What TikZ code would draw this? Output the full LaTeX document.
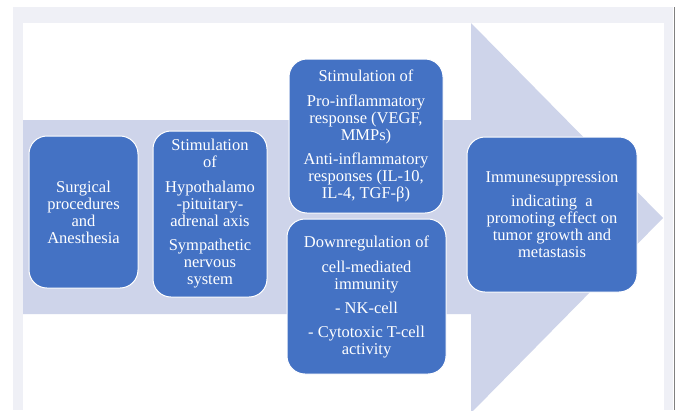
\documentclass[tikz,border=0pt]{standalone}
\usepackage{fontspec}
\setmainfont{Liberation Serif}
\definecolor{framegray}{HTML}{EFF0F6}
\definecolor{arrowfill}{HTML}{CED4EA}
\definecolor{boxblue}{HTML}{4472C4}
\begin{document}
\begin{tikzpicture}[x=1pt,y=-1pt,
  stagebox/.style={draw=white,line width=1pt,fill=boxblue,rounded corners=18pt,
    text=white,align=center,inner sep=0pt,font=\fontsize{16.5}{17}\selectfont}]
\useasboundingbox (0,0) rectangle (680,410);
% frame and big arrow
\fill[framegray] (12.5,7) rectangle (673,410);
\fill[white] (23,23) rectangle (664,410);
\draw[gray,line width=0.8pt] (674.5,7) -- (674.5,410);
\begin{scope}
\clip (23,23) rectangle (664,410);
\fill[arrowfill] (23,120) -- (471,120) -- (471,23) -- (663,218) -- (471,413) -- (471,314) -- (23,314) -- cycle;
\end{scope}
% stages
\node[stagebox,minimum width=109pt,minimum height=152pt] (surgery) at (83.5,212)
  {Surgical\\procedures\\and\\Anesthesia};
\node[stagebox,minimum width=114pt,minimum height=166pt] (hpa) at (210,214)
  {Stimulation\\of\\[8pt]Hypothalamo\\-pituitary-\\adrenal axis\\[7pt]Sympathetic\\nervous\\system};
\node[stagebox,minimum width=154pt,minimum height=154pt] (inflam) at (366,136)
  {Stimulation of\\[8pt]Pro-inflammatory\\response (VEGF,\\MMPs)\\[7pt]Anti-inflammatory\\responses (IL-10,\\IL-4, TGF-β)};
\node[stagebox,minimum width=159pt,minimum height=155pt] (downreg) at (366.5,296.5)
  {Downregulation of\\[8pt]cell-mediated\\immunity\\[7pt]- NK-cell\\[7pt]- Cytotoxic T-cell\\activity};
\node[stagebox,minimum width=170pt,minimum height=155pt] (immsup) at (552,214.5)
  {Immunesuppression\\[7pt]indicating~ a\\promoting effect on\\tumor growth and\\metastasis};
\end{tikzpicture}
\end{document}
